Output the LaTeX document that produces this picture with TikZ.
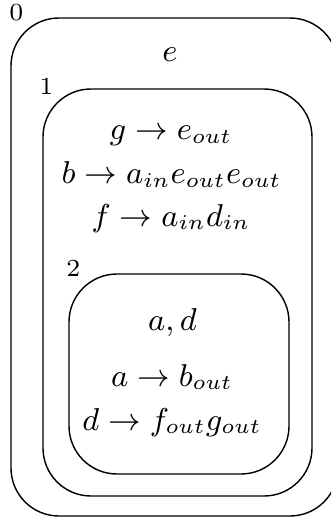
\documentclass[tikz,border=0pt]{standalone}
\usepackage{tikz}
\usepackage{amsmath}

\begin{document}
\begin{tikzpicture}[
        frame/.style={draw, rounded corners=0.48cm, inner sep=0pt},
        lvl/.style={font=\fontsize{7}{8.4}\selectfont, inner sep=0pt, anchor=base},
        rule/.style={font=\fontsize{8.8}{10.6}\selectfont, inner sep=0pt, anchor=base}]

        \clip (0,0) rectangle (3.31,-5.17);

        % nested scopes
        \node[frame, minimum width=3.27cm, minimum height=4.98cm] (lvl0) at (1.745,-2.67)  {};
        \node[frame, minimum width=2.69cm, minimum height=4.07cm] (lvl1) at (1.775,-2.925) {};
        \node[frame, minimum width=2.20cm, minimum height=2.00cm] (lvl2) at (1.79,-3.74)   {};

        \node[lvl] (num0) at ([shift={(0.06,-0.03)}]lvl0.north west) {0};
        \node[lvl] (num1) at ([shift={(0.04,-0.06)}]lvl1.north west) {1};
        \node[lvl] (num2) at ([shift={(0.05,-0.03)}]lvl2.north west) {2};

        \node[rule] (vars0) at (1.70,-0.62) {$e$};

        \node[rule] (g)  at (1.71,-1.40) {$g \rightarrow e_{out}$};
        \node[rule] (b)  at (1.715,-1.84) {$b \rightarrow a_{in}e_{out}e_{out}$};
        \node[rule] (f)  at (1.71,-2.26) {$f \rightarrow a_{in}d_{in}$};

        \node[rule] (vars2) at (1.725,-3.30) {$a, d$};
        \node[rule] (a)  at (1.72,-3.86) {$a \rightarrow b_{out}$};
        \node[rule] (d)  at (1.72,-4.30) {$d \rightarrow f_{out}g_{out}$};
      \end{tikzpicture}
\end{document}
